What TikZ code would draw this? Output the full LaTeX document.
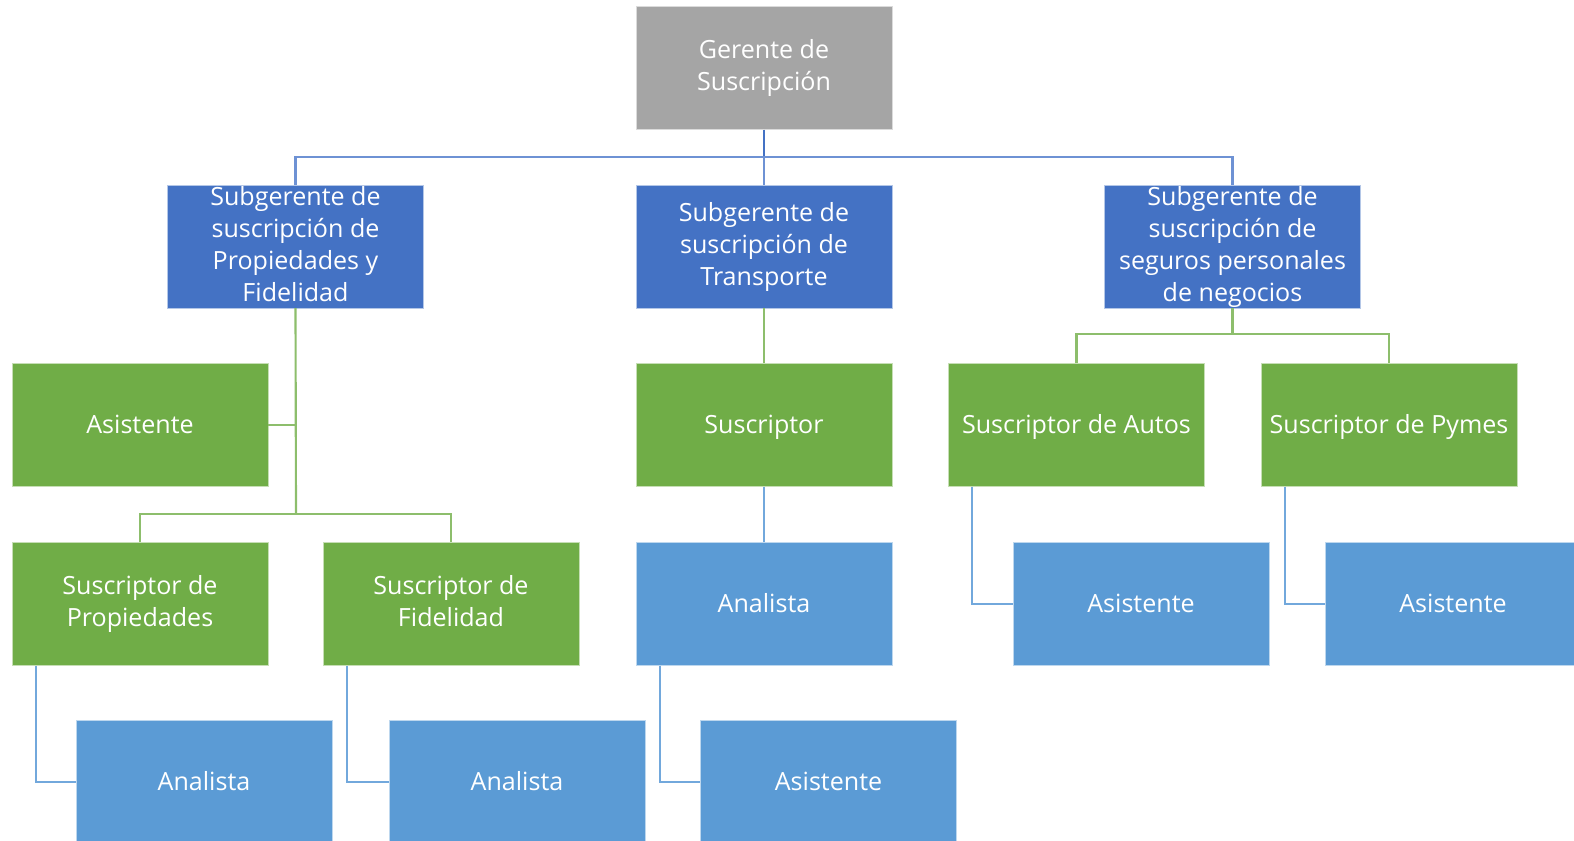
\documentclass[tikz,border=0pt]{standalone}
\usepackage{fontspec}
\setmainfont{Open Sans}
\definecolor{mgray}{HTML}{A5A5A5}
\definecolor{dblue}{HTML}{4472C4}
\definecolor{mgreen}{HTML}{70AD47}
\definecolor{lblue}{HTML}{5B9BD5}
\definecolor{busblue}{HTML}{6E92D4}
\definecolor{lgreen}{HTML}{8DBE6C}
\definecolor{lline}{HTML}{72A8DC}
\begin{document}
\begin{tikzpicture}[x=0.75pt,y=-0.75pt,
  box/.style={rectangle,minimum width=192pt,minimum height=92pt,inner sep=0pt,
    draw=white!60!#1,line width=0.4pt,fill=#1},
  lbl/.style={inner sep=0pt,align=center,text=white,font=\fontsize{18.8}{24}\selectfont,
    execute at begin node=\strut,execute at end node=\strut,yshift=-1.7pt},
  conn/.style={line width=1.6pt,draw=#1}]
\useasboundingbox (0,0) rectangle (1574,841);
\clip (0,0) rectangle (1574,841);

% junction points of the connector trees
\coordinate (bus) at (764,157);
\coordinate (jl) at (296,514);
\coordinate (jr) at (1232.5,334);

% boxes
\node[box=mgray]  (top)   at (764,68)      {};
\node[box=dblue]  (s1)    at (295.5,246.5) {};
\node[box=dblue]  (s2)    at (764,246.5)   {};
\node[box=dblue]  (s3)    at (1232.5,246.5) {};
\node[box=mgreen] (asisL) at (140,425)     {};
\node[box=mgreen] (susP)  at (140,604)     {};
\node[box=mgreen] (susF)  at (451,604)     {};
\node[box=lblue]  (anaP)  at (204,782)     {};
\node[box=lblue]  (anaF)  at (517,782)     {};
\node[box=mgreen] (susc)  at (764,425)     {};
\node[box=lblue]  (anaM)  at (764,604)     {};
\node[box=lblue]  (asisM) at (828.5,782)   {};
\node[box=mgreen] (autos) at (1076.5,425)  {};
\node[box=mgreen] (pymes) at (1389,425)    {};
\node[box=lblue]  (asisA) at (1141,604)    {};
\node[box=lblue]  (asisP) at (1453,604)    {};

% box texts
\node[lbl] (top-t)   at (top)   {Gerente de\\Suscripción};
\node[lbl] (s1-t)    at (s1)    {Subgerente de\\suscripción de\\Propiedades y\\Fidelidad};
\node[lbl] (s2-t)    at (s2)    {Subgerente de\\suscripción de\\Transporte};
\node[lbl] (s3-t)    at (s3)    {Subgerente de\\suscripción de\\seguros personales\\de negocios};
\node[lbl] (asisL-t) at (asisL) {Asistente};
\node[lbl] (susP-t)  at (susP)  {Suscriptor de\\Propiedades};
\node[lbl] (susF-t)  at (susF)  {Suscriptor de\\Fidelidad};
\node[lbl] (anaP-t)  at (anaP)  {Analista};
\node[lbl] (anaF-t)  at (anaF)  {Analista};
\node[lbl] (susc-t)  at (susc)  {Suscriptor};
\node[lbl] (anaM-t)  at (anaM)  {Analista};
\node[lbl] (asisM-t) at (asisM) {Asistente};
\node[lbl] (autos-t) at (autos) {Suscriptor de Autos};
\node[lbl] (pymes-t) at (pymes) {Suscriptor de Pymes};
\node[lbl] (asisA-t) at (asisA) {Asistente};
\node[lbl] (asisP-t) at (asisP) {Asistente};

% top level
\draw[conn=dblue] (top.south) -- (bus);
\draw[conn=busblue] (s1.north) |- (bus) -| (s3.north);
\draw[conn=busblue] (bus) -- (s2.north);

% left branch
\draw[conn=lgreen] (s1.south) -- (jl);
\draw[conn=lgreen] (asisL.east) -- (asisL.east -| jl);
\draw[conn=lgreen] (susP.north) |- (jl) -| (susF.north);
\draw[conn=lline] ([xshift=18pt]susP.south west) |- (anaP.west);
\draw[conn=lline] ([xshift=18pt]susF.south west) |- (anaF.west);

% middle branch
\draw[conn=lgreen] (s2.south) -- (susc.north);
\draw[conn=lline] (susc.south) -- (anaM.north);
\draw[conn=lline] ([xshift=18pt]anaM.south west) |- (asisM.west);

% right branch
\draw[conn=lgreen] (s3.south) -- (jr);
\draw[conn=lgreen] (autos.north) |- (jr) -| (pymes.north);
\draw[conn=lline] ([xshift=18pt]autos.south west) |- (asisA.west);
\draw[conn=lline] ([xshift=18pt]pymes.south west) |- (asisP.west);
\end{tikzpicture}
\end{document}
